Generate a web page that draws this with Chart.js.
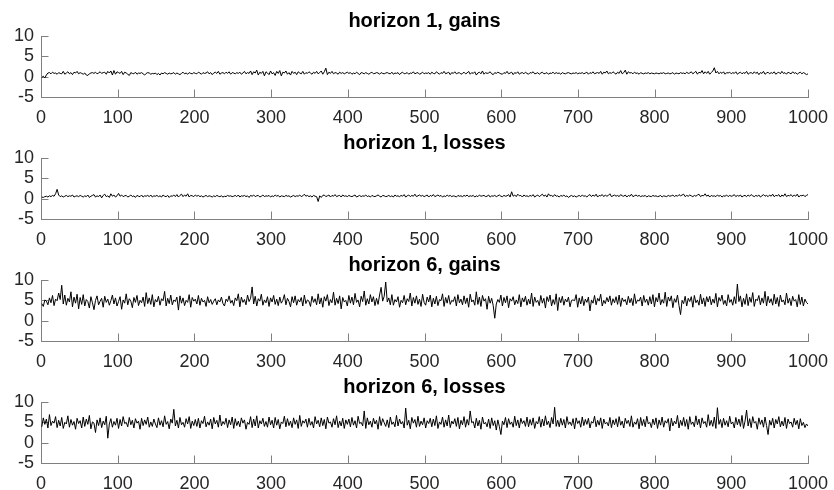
<!DOCTYPE html>
<html><head><meta charset="utf-8">
<script src="https://cdn.jsdelivr.net/npm/chart.js@4"></script>
<style>
html,body{margin:0;padding:0;background:#fff;}
body{width:834px;height:490px;position:relative;overflow:hidden;}
.p{position:absolute;left:0;width:834px;height:130px;}
canvas{display:block;}
</style></head><body>
<div class="p" style="top:0"><canvas id="c0" width="834" height="130"></canvas></div>
<div class="p" style="top:122px"><canvas id="c1" width="834" height="130"></canvas></div>
<div class="p" style="top:244px"><canvas id="c2" width="834" height="130"></canvas></div>
<div class="p" style="top:366px"><canvas id="c3" width="834" height="130"></canvas></div>
<script>
const titles = ["horizon 1, gains", "horizon 1, losses", "horizon 6, gains", "horizon 6, losses"];
const xTicks = [0,100,200,300,400,500,600,700,800,900,1000];
const yTicks = [-5,0,5,10];
const xRange = [0, 1000];
const yRange = [-5, 10];

const h1Gains = [
-0.2,0.1,-0.3,0.4,0.9,1.0,0.7,1.1,0.8,0.9,0.6,1.0,0.8,0.7,1.3,0.6,0.9,1.2,0.7,1.0,0.5,1.1,0.9,1.3,0.7,
1.0,0.8,0.6,0.9,0.4,0.3,0.7,0.9,1.0,0.8,1.1,0.7,0.9,1.2,0.8,1.0,1.1,0.6,1.3,0.9,1.4,0.4,1.5,0.6,1.2,
1.0,0.8,1.3,0.5,1.1,0.9,0.6,0.3,1.0,0.8,0.7,1.1,0.6,0.9,0.8,1.0,0.7,0.4,0.8,1.0,0.9,0.6,0.8,0.7,0.9,
0.5,0.8,0.4,0.9,0.7,1.0,0.8,0.6,0.9,0.7,0.8,1.0,0.6,0.9,0.7,0.5,0.8,1.1,0.7,0.9,0.6,1.0,0.8,0.7,1.0,
0.8,0.7,1.1,0.9,0.6,1.0,0.8,0.9,1.2,0.7,1.0,0.5,0.9,1.1,0.8,1.3,0.6,0.9,1.0,0.7,1.1,0.8,1.2,0.6,1.0,
0.9,0.7,1.0,0.8,1.1,0.6,0.9,1.3,0.7,1.0,0.8,1.4,0.5,1.2,0.9,1.6,0.4,1.1,0.8,1.3,0.2,1.2,0.9,0.5,1.4,
0.7,1.0,0.3,1.3,0.8,1.5,0.2,1.1,0.9,1.4,0.6,1.0,0.4,1.3,0.8,1.1,0.5,1.2,0.9,0.7,1.3,0.6,1.0,0.8,1.2,
0.9,0.6,1.1,0.8,1.3,0.7,1.0,1.4,0.6,1.2,2.1,0.5,1.1,0.8,1.3,0.7,1.0,0.9,0.6,1.1,0.8,1.0,0.7,0.9,1.1,
0.8,1.0,0.6,0.9,0.7,1.1,0.8,0.5,1.0,0.9,0.7,1.0,0.8,0.6,0.9,1.1,0.7,0.8,1.0,0.9,0.6,1.0,0.8,0.7,0.9,
1.0,0.8,0.7,1.1,0.6,0.9,0.8,1.0,0.5,0.9,1.1,0.7,0.8,1.0,0.6,0.9,0.8,1.2,0.7,0.9,1.0,0.6,0.8,1.1,0.7,
0.9,0.8,1.0,0.6,1.1,0.8,0.7,1.2,0.9,0.6,1.0,0.8,1.3,0.7,0.9,1.1,0.5,1.0,0.8,1.2,0.7,0.9,1.0,0.6,0.8,
1.1,0.7,0.9,1.3,0.6,1.0,0.8,1.2,0.4,0.9,1.1,0.7,1.4,0.6,1.0,0.8,0.9,1.2,0.7,0.5,1.0,0.8,1.1,0.9,0.7,
0.6,1.0,0.8,1.3,0.7,0.9,1.1,0.5,1.0,0.8,1.2,0.6,0.9,1.0,0.7,1.1,0.8,0.6,1.0,0.9,1.2,0.7,0.8,1.0,0.6,
0.9,1.1,0.7,0.8,1.0,0.6,0.9,0.8,1.1,0.7,1.0,0.8,0.9,0.6,1.0,0.8,0.7,0.9,1.0,0.8,0.7,0.9,0.8,1.0,0.7,
0.9,0.8,1.0,0.7,0.9,1.1,0.6,1.0,0.8,1.2,0.7,0.9,1.0,0.8,1.3,0.6,1.1,0.9,1.4,0.7,1.0,0.8,1.2,0.9,0.6,
1.1,0.8,1.5,0.7,1.0,1.6,0.6,1.2,0.9,1.0,0.7,1.1,0.8,0.9,0.6,1.0,0.8,0.7,0.9,0.8,1.0,0.7,0.9,0.8,0.7,
0.9,0.8,0.7,0.9,0.8,1.0,0.7,0.8,0.9,0.7,0.8,1.0,0.6,0.9,0.8,0.7,1.0,0.8,0.9,0.7,1.1,0.8,0.9,1.2,0.7,
1.0,1.3,0.6,1.1,0.9,1.5,0.7,1.2,0.8,1.3,0.6,1.0,1.4,2.2,0.9,1.3,0.7,1.1,0.8,1.2,0.6,1.0,0.9,1.1,0.7,
1.0,0.8,1.2,0.6,0.9,1.1,0.7,1.0,0.8,1.3,0.6,0.9,1.0,0.7,1.2,0.8,1.1,0.5,1.0,0.8,1.3,0.6,0.9,1.1,0.7,
1.0,0.8,1.2,0.6,0.9,1.1,0.7,1.3,0.8,1.0,0.6,1.1,0.9,0.7,1.2,0.8,1.0,0.6,0.9,1.1,0.7,1.0,0.8,0.5,0.7
];

const h1Losses = [
0.4,0.3,0.5,0.6,0.4,0.7,0.5,0.8,0.6,1.2,2.3,0.9,0.5,0.7,0.4,0.6,0.8,0.5,0.7,0.6,0.9,0.4,0.6,0.7,0.5,
0.8,0.6,0.4,0.7,0.5,0.9,0.3,0.6,0.8,1.0,0.4,0.7,0.5,0.9,0.2,0.8,1.1,0.5,0.7,0.3,1.2,0.6,0.9,0.4,0.7,
1.3,0.6,0.9,0.5,0.7,0.8,0.4,0.6,0.9,0.5,0.7,0.3,0.8,0.6,0.5,0.9,0.4,0.7,0.6,0.8,0.5,0.9,0.4,0.7,0.6,
0.8,0.5,0.7,0.4,0.9,0.6,0.5,0.8,0.3,0.7,0.6,0.9,0.5,1.0,0.4,0.8,1.1,0.5,0.9,0.6,1.2,0.4,0.8,0.7,0.5,
0.9,0.6,0.8,0.5,0.7,0.4,0.6,0.8,0.5,0.7,0.6,0.4,0.7,0.5,0.8,0.6,0.5,0.7,0.4,0.6,0.5,0.8,0.6,0.7,0.5,
0.6,0.8,0.5,0.9,0.4,0.7,0.6,0.8,0.5,0.7,0.3,0.8,0.6,0.9,0.5,0.7,0.8,0.4,0.6,0.9,0.5,0.7,0.6,0.8,0.4,
0.7,0.5,0.9,0.6,0.8,0.4,0.7,0.6,0.5,0.8,0.6,0.7,0.4,0.6,0.8,0.5,0.7,0.6,0.9,0.5,0.7,1.1,0.6,0.8,0.5,
0.7,0.4,0.8,0.6,0.5,-0.7,0.7,0.3,0.8,0.9,0.5,0.7,0.9,0.4,0.8,0.6,1.0,0.5,0.7,0.8,0.4,0.9,0.6,0.7,0.5,
0.8,0.6,0.5,0.7,0.9,0.4,0.6,0.8,0.5,0.7,0.6,0.9,0.5,0.7,0.4,0.8,0.6,0.5,0.7,0.9,0.6,0.4,0.8,0.7,0.5,
0.6,0.8,0.5,0.7,0.4,0.9,0.6,0.7,0.5,0.8,0.6,1.0,0.4,0.7,0.9,0.5,0.8,0.6,1.1,0.5,0.7,0.9,0.6,0.8,0.5,
0.7,0.9,0.4,0.8,0.6,1.0,0.5,0.7,0.9,0.6,0.8,0.4,0.7,0.5,0.9,0.6,0.8,0.5,0.7,0.6,0.4,0.8,0.6,0.7,0.5,
0.8,0.6,0.9,0.5,0.7,0.6,0.8,0.4,0.7,0.5,0.9,0.6,0.7,0.8,0.5,0.6,0.9,0.4,0.7,0.6,0.8,0.5,0.7,0.9,0.6,
0.5,0.8,0.6,0.7,1.0,0.4,1.7,0.6,0.9,0.5,1.1,0.7,0.8,0.4,0.9,0.6,0.7,0.5,0.8,0.6,1.0,0.4,0.7,0.9,0.5,
0.8,1.1,0.6,0.9,0.4,1.2,0.7,0.8,0.5,1.0,0.6,0.7,0.4,0.8,0.6,0.9,0.5,0.7,0.3,0.6,0.8,0.5,0.7,0.4,0.6,
0.8,0.5,0.9,0.6,0.7,0.4,0.8,1.0,0.5,0.9,0.6,1.1,0.4,0.8,0.7,1.0,0.5,0.9,0.6,0.8,1.2,0.5,0.7,0.9,0.6,
0.8,0.5,1.0,0.7,0.6,0.9,0.4,0.8,0.6,1.1,0.5,0.7,0.9,0.6,0.8,0.5,0.7,0.6,0.8,0.4,0.7,0.6,0.5,0.8,0.6,
0.7,0.5,0.6,0.8,0.4,0.7,0.6,0.5,0.8,0.6,0.7,0.9,0.5,0.8,0.6,1.0,0.7,0.9,1.1,0.5,0.8,0.6,0.9,0.7,0.5,
0.8,0.6,0.9,1.1,0.5,0.8,0.7,1.2,0.6,0.9,0.4,0.8,0.6,0.7,0.5,0.9,0.6,0.8,0.4,0.7,0.6,0.9,0.5,0.8,0.6,
0.7,1.0,0.5,0.8,0.6,0.9,0.4,0.7,0.8,0.5,0.9,0.6,1.0,0.7,0.5,0.8,0.6,0.9,0.4,0.7,1.0,0.6,0.8,0.5,0.9,
0.6,1.1,0.5,0.8,0.7,1.0,0.4,0.9,0.6,1.2,0.5,0.8,0.7,1.0,0.5,0.9,0.6,1.1,0.4,0.8,0.7,0.9,0.5,0.8,1.0
];

const h6Gains = [
4.2,3.5,5.1,4.8,3.9,5.6,4.4,6.2,3.7,5.3,4.9,6.8,5.2,8.7,4.1,6.3,3.8,5.5,4.6,7.1,3.4,5.8,4.3,6.5,2.9,
5.7,4.0,6.4,3.6,5.2,4.7,3.1,5.9,4.4,2.7,5.0,6.1,3.9,4.8,5.5,3.3,6.0,4.5,5.3,3.8,4.9,6.3,4.1,5.6,3.6,
4.7,5.9,2.8,5.1,4.3,6.6,3.9,5.4,4.8,3.2,5.7,4.5,6.2,3.7,5.0,4.4,5.8,3.5,6.9,4.2,5.6,4.0,6.4,3.4,5.2,
4.6,6.0,3.8,5.4,4.9,7.2,3.6,5.5,4.2,6.3,3.9,5.1,4.7,5.8,2.6,6.1,4.3,5.6,3.7,5.0,4.5,6.4,3.3,5.7,4.8,
5.3,4.1,6.2,3.8,5.5,4.6,5.0,3.5,5.9,4.4,5.2,4.0,4.8,5.4,3.9,5.1,4.6,5.8,4.2,3.6,5.3,4.7,6.1,4.3,5.0,
3.7,5.6,4.9,6.6,3.4,5.8,4.5,5.2,3.9,6.3,4.7,5.5,8.3,4.1,6.0,3.6,5.4,4.8,6.5,3.8,5.1,4.4,5.9,3.5,5.6,
4.6,6.2,4.0,5.3,3.7,5.8,4.3,5.0,6.4,3.9,5.5,4.7,3.4,5.9,4.4,6.1,3.8,5.2,4.6,5.7,3.6,6.3,4.2,5.1,4.8,
3.5,6.0,4.5,5.4,3.9,6.6,4.1,5.6,3.3,5.9,4.8,6.4,3.7,5.2,4.4,7.0,3.8,5.5,4.2,6.1,2.9,5.7,4.6,5.0,3.6,
6.2,4.3,5.8,3.9,6.7,4.5,5.1,3.4,6.0,4.7,7.3,3.8,5.4,4.1,6.4,4.6,5.9,3.7,5.5,4.0,6.3,8.2,4.8,6.0,9.5,
4.6,5.6,3.9,6.4,3.8,5.2,4.6,5.9,3.3,5.0,4.4,6.2,3.9,5.4,4.7,6.8,3.6,5.7,4.3,6.1,4.0,5.3,3.5,6.5,4.5,
3.8,5.8,4.6,6.3,3.4,5.5,4.1,6.0,3.7,5.2,4.9,6.6,3.5,5.7,4.3,6.2,4.0,5.0,4.7,5.9,3.6,6.4,4.4,5.3,3.9,
6.1,4.2,5.6,3.3,6.5,4.6,5.1,3.8,7.1,4.0,5.8,3.5,6.2,4.8,5.4,2.8,6.0,4.3,5.5,3.7,0.6,4.1,5.2,4.5,6.3,
3.6,5.7,4.4,6.1,3.2,5.4,4.8,5.9,3.9,5.1,4.2,6.4,3.4,5.6,4.6,6.0,3.8,5.3,4.1,6.8,3.5,5.8,4.5,5.0,3.7,
6.2,4.3,5.5,3.1,5.9,4.7,6.3,3.6,5.2,4.0,6.6,2.5,5.7,4.4,6.0,3.8,5.3,4.6,5.8,3.4,5.0,5.1,4.9,6.4,3.3,
5.6,4.1,6.0,3.7,5.3,4.5,5.8,2.4,5.1,4.3,6.2,3.9,5.5,4.8,6.5,3.6,5.0,4.2,5.7,4.6,6.1,3.8,5.4,4.4,5.9,
4.0,6.3,3.5,5.6,4.7,5.2,3.9,6.0,4.4,5.5,3.7,6.6,4.2,5.1,4.8,5.8,3.6,6.2,4.5,5.3,3.8,5.9,4.1,6.4,3.4,
5.7,4.6,6.8,3.9,5.2,4.3,7.0,3.5,5.8,4.8,6.1,3.2,5.4,4.5,6.3,3.7,1.5,5.0,4.2,6.0,3.6,5.5,4.7,5.9,3.3,
6.2,4.4,5.1,3.8,6.5,4.1,5.6,3.5,5.9,4.6,6.0,3.9,5.3,4.3,6.7,3.4,5.7,4.8,6.3,4.0,5.0,3.6,6.4,4.5,5.2,
3.8,5.9,4.2,9.0,4.7,6.1,3.4,5.5,4.0,6.6,3.7,5.8,4.5,6.9,3.5,5.3,4.9,6.2,3.9,5.6,4.3,7.2,3.6,6.0,4.4,
5.4,3.8,6.5,4.1,5.7,3.5,6.3,4.6,5.1,3.9,6.8,4.3,5.5,3.7,6.0,4.8,5.2,3.4,6.4,4.0,5.8,3.6,5.3,4.5,4.1
];

const h6Losses = [
3.9,6.1,4.5,5.8,3.6,6.9,4.2,5.3,4.8,6.4,3.7,5.5,4.1,6.2,3.5,5.0,4.6,6.6,3.8,5.7,4.3,5.2,3.3,6.0,4.7,
5.4,3.6,6.3,4.0,5.8,4.5,6.7,3.4,5.1,4.8,2.5,5.6,4.2,6.1,3.7,5.3,4.4,6.5,1.1,4.6,5.9,3.8,5.2,4.3,6.0,
3.5,5.7,4.1,6.4,4.7,5.0,3.9,6.2,4.4,5.5,3.6,5.9,4.8,5.3,3.3,6.0,4.2,5.6,4.5,6.3,3.8,5.1,4.0,5.8,4.6,
3.7,6.1,4.3,5.4,3.9,6.6,4.5,5.2,3.4,5.8,4.8,8.2,4.1,5.5,3.6,6.2,4.4,5.0,3.8,5.9,4.6,6.4,3.5,5.3,4.2,
5.7,4.0,6.0,3.6,5.4,4.7,6.5,3.9,5.1,4.3,5.8,3.4,6.2,4.6,5.5,3.8,6.8,4.1,5.2,4.5,6.0,3.7,5.6,4.4,6.3,
3.5,5.9,4.2,5.3,3.9,6.1,4.8,5.6,3.3,5.0,4.5,6.4,3.7,5.8,4.1,6.6,3.6,5.4,4.6,6.0,4.0,5.2,3.8,6.3,4.4,
5.5,3.6,6.2,4.3,5.7,3.4,5.1,4.7,6.5,3.9,5.9,4.2,5.3,3.7,6.1,4.5,5.6,3.5,6.7,4.0,5.4,4.8,5.8,3.8,6.0,
4.3,5.2,3.6,6.4,4.6,5.5,3.9,6.1,4.2,5.7,3.4,6.3,4.8,5.1,3.8,5.9,4.4,6.6,3.7,5.3,4.1,6.0,3.5,5.6,4.5,
5.8,3.9,6.2,4.3,5.4,3.6,6.5,4.7,5.0,4.1,7.8,3.5,6.1,4.4,5.3,3.8,6.0,4.6,5.5,3.3,6.4,4.2,5.9,4.9,4.0,
5.6,3.7,6.3,4.5,5.1,3.9,6.7,4.1,5.8,4.6,5.2,3.6,8.5,4.3,5.5,3.4,6.2,4.8,5.7,3.8,6.5,4.0,5.3,4.4,6.1,
3.6,5.4,4.7,6.0,3.9,5.8,4.2,6.6,3.5,5.1,4.5,6.3,3.8,5.6,4.1,6.8,3.7,5.3,4.6,5.9,4.0,6.2,3.4,5.5,4.4,
6.4,3.8,5.7,4.3,7.8,4.9,5.2,3.6,6.0,4.1,5.5,3.3,6.3,4.6,5.0,3.9,5.8,3.5,6.1,4.2,5.4,3.1,5.6,4.0,2.0,
5.3,4.4,6.2,3.7,5.9,4.5,5.1,3.8,6.5,4.2,5.6,3.6,6.0,4.7,5.4,4.0,6.3,3.9,5.7,4.3,6.1,3.5,5.2,4.6,6.4,
3.8,5.8,4.1,6.6,4.4,5.3,3.7,6.2,4.6,8.7,4.0,5.5,3.9,6.0,4.3,5.7,3.6,6.4,4.5,5.1,4.2,5.9,3.4,6.1,4.7,
5.4,3.8,6.3,4.2,5.7,4.5,6.0,3.6,5.2,4.8,6.5,3.9,5.5,4.3,6.1,3.5,5.8,4.6,5.0,4.1,6.2,3.7,5.6,4.4,5.9,
3.9,6.4,4.3,5.3,3.6,6.0,4.7,5.5,4.0,6.6,3.8,5.1,4.5,5.9,3.4,6.2,4.2,5.7,3.9,6.5,4.6,5.0,3.7,5.8,4.4,
6.1,3.5,5.6,4.3,6.3,3.8,5.4,4.8,5.9,2.9,6.0,4.1,5.3,4.6,6.7,3.6,5.5,4.2,6.2,4.0,5.7,3.3,6.4,4.5,5.1,
3.9,6.6,4.4,5.8,3.6,6.1,4.7,5.2,3.8,6.9,4.2,5.5,4.0,6.3,3.5,8.6,4.5,5.7,3.7,6.0,4.3,5.4,3.9,6.5,4.6,
5.1,3.6,6.2,4.4,5.8,4.0,6.7,3.5,5.3,8.0,4.1,5.9,3.7,6.4,4.8,5.2,3.3,6.1,4.5,5.6,3.8,6.3,4.2,2.0,5.5,
4.3,6.0,3.6,5.7,4.6,6.4,3.9,5.3,4.1,6.2,3.5,5.8,4.7,5.1,3.8,6.0,4.4,5.5,3.4,5.9,4.2,5.0,3.7,4.6,4.1
];

const series = [h1Gains, h1Losses, h6Gains, h6Losses];

const FONT = '"Liberation Sans", Arial, Helvetica, sans-serif';
const AXIS = '#808080';
const TL = 7.5;

const inwardTicks = {
  id: 'inwardTicks',
  beforeDatasetsDraw(chart) {
    const {ctx, chartArea: a, scales: {x, y}} = chart;
    ctx.save();
    ctx.strokeStyle = AXIS;
    ctx.lineWidth = 1;
    ctx.beginPath();
    x.ticks.forEach(t => {
      const px = Math.round(x.getPixelForValue(t.value)) + 0.5;
      ctx.moveTo(px, a.bottom);
      ctx.lineTo(px, a.bottom - TL);
    });
    y.ticks.forEach(t => {
      const py = Math.round(y.getPixelForValue(t.value)) + 0.5;
      ctx.moveTo(a.left, py);
      ctx.lineTo(a.left + TL, py);
    });
    ctx.stroke();
    ctx.restore();
  }
};

series.forEach((vals, k) => {
  const n = vals.length;
  const pts = vals.map((v, i) => ({x: 1 + i * (999 / (n - 1)), y: v}));
  new Chart(document.getElementById('c' + k), {
    type: 'line',
    data: {datasets: [{data: pts, borderColor: '#000', borderWidth: 1, pointRadius: 0, tension: 0, fill: false}]},
    options: {
      responsive: false,
      animation: false,
      events: [],
      layout: {padding: {left: 0, right: 26, top: 0, bottom: 0}},
      plugins: {
        legend: {display: false},
        tooltip: {enabled: false},
        title: {
          display: true, text: titles[k], fullSize: false, color: '#000',
          font: {family: FONT, size: 20, weight: 'bold', lineHeight: 1.2},
          padding: {top: 9, bottom: 3}
        }
      },
      scales: {
        x: {
          type: 'linear', min: xRange[0], max: xRange[1],
          afterBuildTicks: s => { s.ticks = xTicks.map(v => ({value: v})); },
          afterFit: s => { s.height = 33; s.paddingRight = 0; s.paddingLeft = 0; },
          grid: {display: false, drawTicks: false},
          border: {display: true, color: AXIS, width: 1},
          ticks: {color: '#262626', font: {family: FONT, size: 18}, padding: 10, maxRotation: 0, autoSkip: false,
                  callback: v => String(v)}
        },
        y: {
          type: 'linear', min: yRange[0], max: yRange[1],
          afterBuildTicks: s => { s.ticks = yTicks.map(v => ({value: v})); },
          afterFit: s => { s.width = 41; s.paddingTop = 0; s.paddingBottom = 0; },
          grid: {display: false, drawTicks: false},
          border: {display: true, color: AXIS, width: 1},
          ticks: {color: '#262626', font: {family: FONT, size: 18}, padding: 7, autoSkip: false,
                  callback: v => String(v)}
        }
      }
    },
    plugins: [inwardTicks]
  });
});
</script>
</body></html>
